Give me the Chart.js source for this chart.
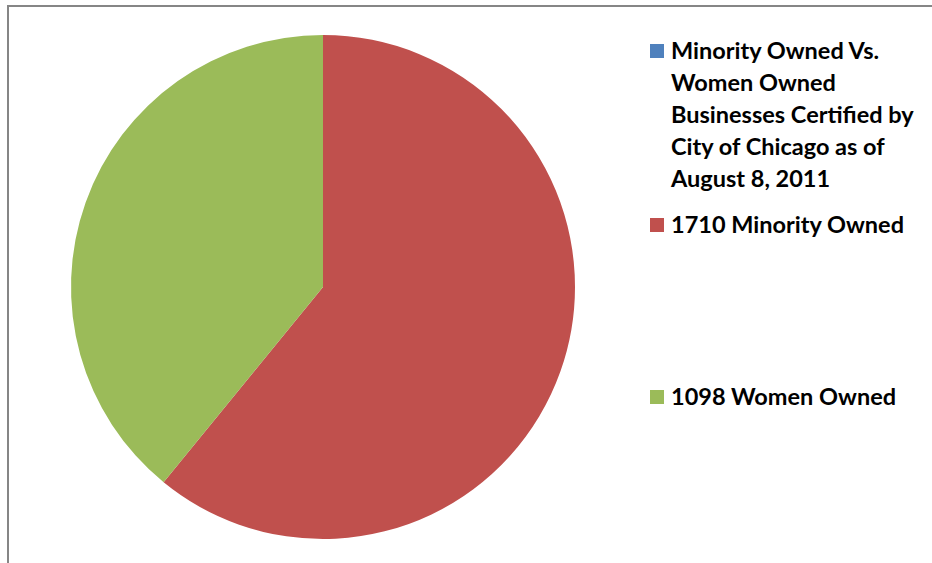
<!DOCTYPE html>
<html>
<head>
<meta charset="utf-8">
<script src="https://cdn.jsdelivr.net/npm/chart.js@4"></script>
<style>
  html, body { margin: 0; padding: 0; background: #fff; }
  #wrap { position: relative; width: 932px; height: 563px; overflow: hidden; }
  #frame { position: absolute; left: 7px; top: 5px; width: 1000px; height: 1000px;
           border-left: 2px solid #868686; border-top: 2px solid #868686; }
  #box { position: absolute; left: 0; top: 0; width: 646px; height: 563px; }
  .item { position: absolute; left: 650px; font-family: Lato, "Open Sans", sans-serif;
          font-size: 23.5px; line-height: 32px; color: #000; font-weight: bold; }
  .item span.sw { position: absolute; left: 0; width: 14px; height: 14px; }
  .item div.tx { margin-left: 21px; width: 258px; }
</style>
</head>
<body>
<div id="wrap">
  <div id="frame"></div>
  <div id="box"><canvas id="myChart"></canvas></div>
  <div id="legend"></div>
</div>
<script>
const labels = [
  "Minority Owned Vs. Women Owned Businesses Certified by City of Chicago as of August 8, 2011",
  "1710 Minority Owned",
  "1098 Women Owned",
];
const values = [0, 1710, 1098];
const colors = ["#4f81bd", "#c0504d", "#9bbb59"];

const ctx = document.getElementById("myChart");

const myChart = new Chart(ctx, {
  type: "pie",
  data: {
    labels: labels,
    datasets: [
      {
        data: values,
        backgroundColor: colors,
        borderWidth: 0,
      },
    ],
  },
  options: {
    responsive: true,
    maintainAspectRatio: false,
    animation: false,
    layout: { padding: { top: 35, bottom: 24, left: 71, right: 71 } },
    plugins: {
      legend: { display: false },
      tooltip: { enabled: false },
    },
  },
});

// legend on the right, drawn as html so the long title can wrap
const legendTops = [34, 208, 380];
const legend = document.getElementById("legend");
for (let i = 0; i < labels.length; i++) {
  let item = document.createElement("div");
  item.className = "item";
  item.style.top = legendTops[i] + "px";
  item.innerHTML =
    '<span class="sw" style="top:10px;background:' + colors[i] + '"></span>' +
    '<div class="tx">' + labels[i] + "</div>";
  legend.appendChild(item);
}
</script>
</body>
</html>
